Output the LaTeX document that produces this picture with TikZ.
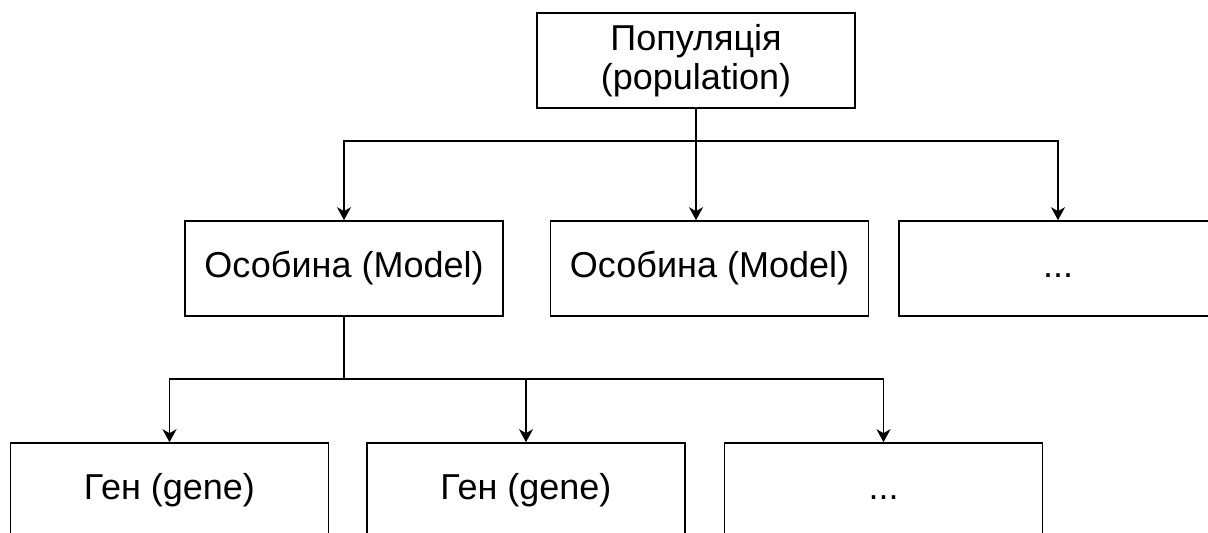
\documentclass[tikz,border=0pt]{standalone}
\usepackage{fontspec}
\setmainfont{Liberation Sans}
\usetikzlibrary{arrows.meta}
\newcommand{\moreitems}{\vphantom{Ген (gene)}...}
\begin{document}
\begin{tikzpicture}[x=1pt,y=-1pt,
  box/.style={draw=black,line width=1.6pt,rectangle,minimum width=318pt,minimum height=95pt,
    inner sep=0pt,align=center,font=\fontsize{36}{39}\selectfont},
  link/.style={draw=black,line width=1.6pt},
  arr/.style={link,-{Stealth[length=13pt,width=14pt,inset=4pt]}}]
  \useasboundingbox (0,0) rectangle (1208,533);
  \clip (0,0) rectangle (1208,533);
  % top level
  \node[box] (pop) at (696,60.5) {Популяція\\(population)};
  % individuals
  \node[box] (m1) at (344,268.5) {Особина (Model)};
  \node[box] (m2) at (709.5,268.5) {Особина (Model)};
  \node[box] (m3) at (1058,268.5) {\moreitems};
  % genes
  \node[box] (g1) at (169.5,490.5) {Ген (gene)};
  \node[box] (g2) at (526,490.5) {Ген (gene)};
  \node[box] (g3) at (883.5,490.5) {\moreitems};
  % junction points of the tree
  \coordinate (j1) at (696,141);
  \coordinate (j2) at (344,379);
  % population -> individuals
  \draw[link] (pop.south) -- (j1);
  \draw[arr] (j1) -| (m1.north);
  \draw[arr] (j1) -- (j1 |- m2.north);
  \draw[arr] (j1) -| (m3.north);
  % individual -> genes
  \draw[link] (m1.south) -- (j2);
  \draw[arr] (j2) -| (g1.north);
  \draw[arr] (j2) -| (g2.north);
  \draw[arr] (j2) -| (g3.north);
\end{tikzpicture}
\end{document}
